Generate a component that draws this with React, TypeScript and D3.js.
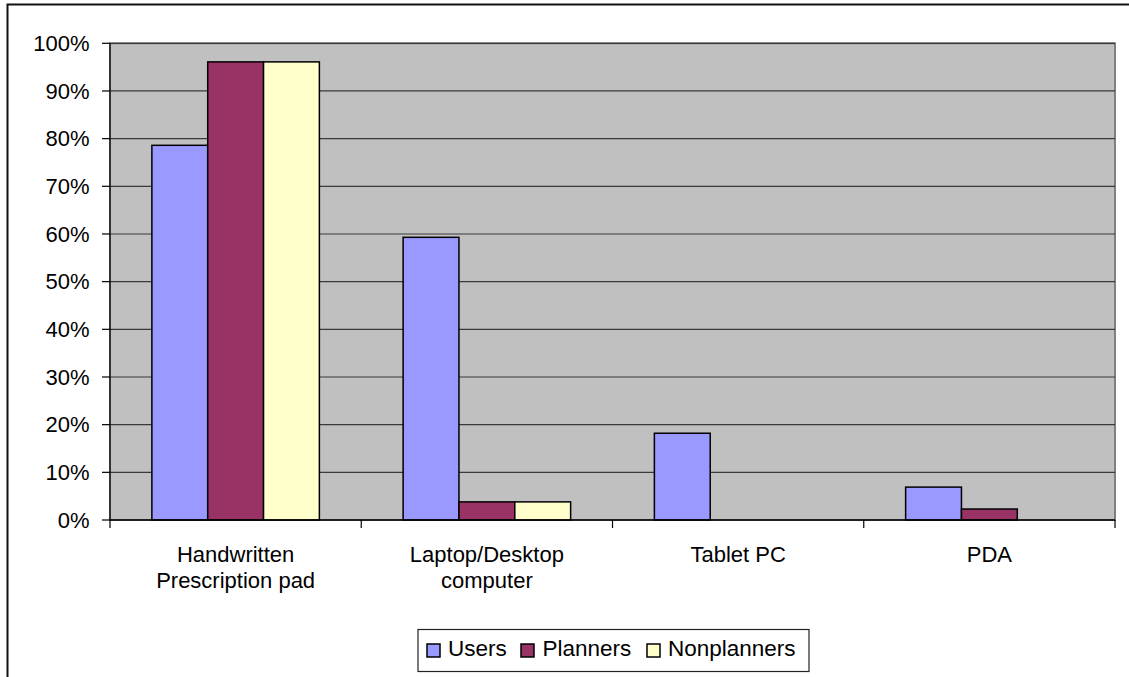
import React from "react";
import * as d3 from "d3";

// Share of respondents using each prescribing tool
const categories = ["Handwritten\nPrescription pad", "Laptop/Desktop\ncomputer", "Tablet PC", "PDA"];
const seriesNames = ["Users", "Planners", "Nonplanners"];
const users = [0.786, 0.593, 0.182, 0.069];
const planners = [0.961, 0.038, 0, 0.023];
const nonplanners = [0.961, 0.038, 0, 0];
const seriesColors = ["#9999FF", "#993366", "#FFFFCC"];
const yTicks = [0, 0.1, 0.2, 0.3, 0.4, 0.5, 0.6, 0.7, 0.8, 0.9, 1.0];

const W = 1129;
const H = 677;
const FONT = "'Liberation Sans', Arial, sans-serif";

export default function App() {
  const left = 110;
  const right = 1115;
  const top = 43.3;
  const bottom = 520;

  const x = d3.scaleBand<string>().domain(categories).range([left, right]).padding(0);
  const bw = x.bandwidth();
  const barW = bw / 4.5; // gap width 150%
  const inner = d3
    .scaleBand<string>()
    .domain(seriesNames)
    .range([barW * 0.75, bw - barW * 0.75])
    .padding(0);
  const y = d3.scaleLinear().domain([0, 1]).range([bottom, top]);
  const fmt = d3.format(".0%");

  const series = [users, planners, nonplanners];

  const legendItems = [
    { name: seriesNames[0], sx: 427, tx: 448 },
    { name: seriesNames[1], sx: 521, tx: 542.5 },
    { name: seriesNames[2], sx: 647, tx: 668 },
  ];

  return (
    <svg
      width={W}
      height={H}
      style={{ position: "absolute", left: 0, top: 0, background: "#fff" }}
      fontFamily={FONT}
    >
      {/* chart area frame */}
      <rect x={7.5} y={4.5} width={W + 20} height={H + 20} fill="#fff" stroke="#111" strokeWidth={2} />

      {/* plot area */}
      <rect x={left} y={top} width={right - left} height={bottom - top} fill="#C0C0C0" stroke="#808080" strokeWidth={2} />

      {/* gridlines */}
      {yTicks.slice(1).map((t) => (
        <line key={t} x1={left} x2={right} y1={y(t)} y2={y(t)} stroke="#3a3a3a" strokeWidth={1.2} />
      ))}

      {/* bars */}
      {series.map((vals, si) =>
        vals.map((v, ci) =>
          v > 0 ? (
            <rect
              key={`${si}-${ci}`}
              x={(x(categories[ci]) as number) + (inner(seriesNames[si]) as number)}
              y={y(v)}
              width={inner.bandwidth()}
              height={y(0) - y(v)}
              fill={seriesColors[si]}
              stroke="#000"
              strokeWidth={1.5}
            />
          ) : null
        )
      )}

      {/* y axis */}
      <line x1={left} x2={left} y1={top} y2={bottom} stroke="#000" strokeWidth={1.2} />
      {yTicks.map((t) => (
        <g key={t}>
          <line x1={left - 8} x2={left} y1={y(t)} y2={y(t)} stroke="#000" strokeWidth={1.2} />
          <text x={89.5} y={y(t)} dy="0.35em" textAnchor="end" fontSize={22} fill="#000">
            {fmt(t)}
          </text>
        </g>
      ))}

      {/* x axis */}
      <line x1={left} x2={right} y1={bottom} y2={bottom} stroke="#000" strokeWidth={1.5} />
      {[...categories.map((c) => x(c) as number), right].map((px, i) => (
        <line key={i} x1={px} x2={px} y1={bottom} y2={bottom + 8} stroke="#000" strokeWidth={1.2} />
      ))}
      {categories.map((c) => (
        <text key={c} x={(x(c) as number) + bw / 2} y={562} textAnchor="middle" fontSize={22} fill="#000">
          {c.split("\n").map((line, li) => (
            <tspan key={li} x={(x(c) as number) + bw / 2} dy={li === 0 ? 0 : 26}>
              {line}
            </tspan>
          ))}
        </text>
      ))}

      {/* legend */}
      <rect x={418} y={629.5} width={391} height={42} fill="#fff" stroke="#222" strokeWidth={1.2} />
      {legendItems.map((it, i) => (
        <g key={it.name}>
          <rect x={it.sx} y={644} width={13} height={13} fill={seriesColors[i]} stroke="#000" strokeWidth={1.5} />
          <text x={it.tx} y={656} fontSize={22.5} fill="#000">
            {it.name}
          </text>
        </g>
      ))}
    </svg>
  );
}
